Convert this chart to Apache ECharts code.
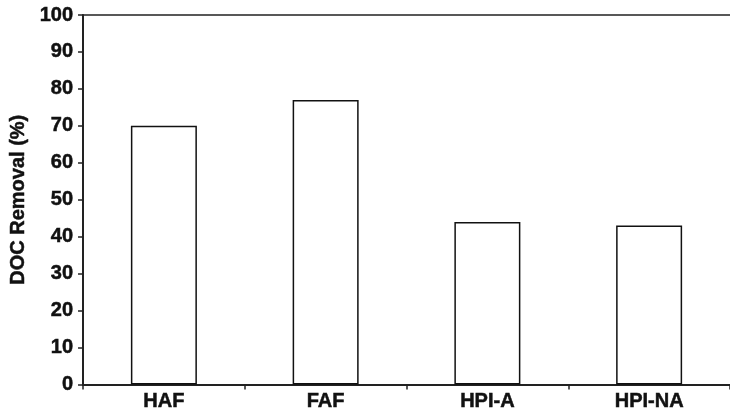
<!DOCTYPE html>
<html>
<head>
<meta charset="utf-8">
<script src="https://cdn.jsdelivr.net/npm/echarts@6/dist/echarts.min.js"></script>
<style>html,body{margin:0;padding:0;background:#fff}#c{width:730px;height:413px}</style>
</head>
<body>
<div id="c"></div>
<script>
const categories = ['HAF', 'FAF', 'HPI-A', 'HPI-NA'];
const docRemoval = [70, 77, 44, 43];
const yTicks = { min: 0, max: 100, interval: 10 };
const yName = 'DOC Removal (%)';

const chart = echarts.init(document.getElementById('c'), null, { renderer: 'canvas' });
const font = '"Liberation Sans", Arial, sans-serif';
const txt = { color: '#111', fontFamily: font, fontWeight: 'bold', fontSize: 20, textBorderColor: '#111', textBorderWidth: 0.5 };
chart.setOption({
  animation: false,
  grid: { left: 81, top: 15, right: -7, bottom: 28.5 },
  xAxis: [{
    type: 'category',
    data: categories,
    axisLine: { lineStyle: { color: '#222', width: 2 } },
    axisTick: { show: true, length: 5, alignWithLabel: false, lineStyle: { color: '#222', width: 1.5 } },
    axisLabel: Object.assign({ margin: 7 }, txt)
  }, {
    type: 'category',
    data: categories,
    position: 'top',
    axisLine: { show: true, lineStyle: { color: '#222', width: 1.5 } },
    axisTick: { show: false },
    axisLabel: { show: false }
  }],
  yAxis: {
    type: 'value',
    min: yTicks.min, max: yTicks.max, interval: yTicks.interval,
    name: yName,
    nameLocation: 'middle',
    nameGap: 46,
    nameTextStyle: Object.assign({}, txt),
    axisLine: { show: true, lineStyle: { color: '#222', width: 2 } },
    axisTick: { show: true, length: 5, lineStyle: { color: '#222', width: 1.5 } },
    axisLabel: Object.assign({ margin: 10 }, txt),
    splitLine: { show: false }
  },
  series: [{
    type: 'bar',
    data: docRemoval,
    barWidth: 66,
    itemStyle: { color: '#fff', borderColor: '#111', borderWidth: 1.5 }
  }]
});
</script>
</body>
</html>
